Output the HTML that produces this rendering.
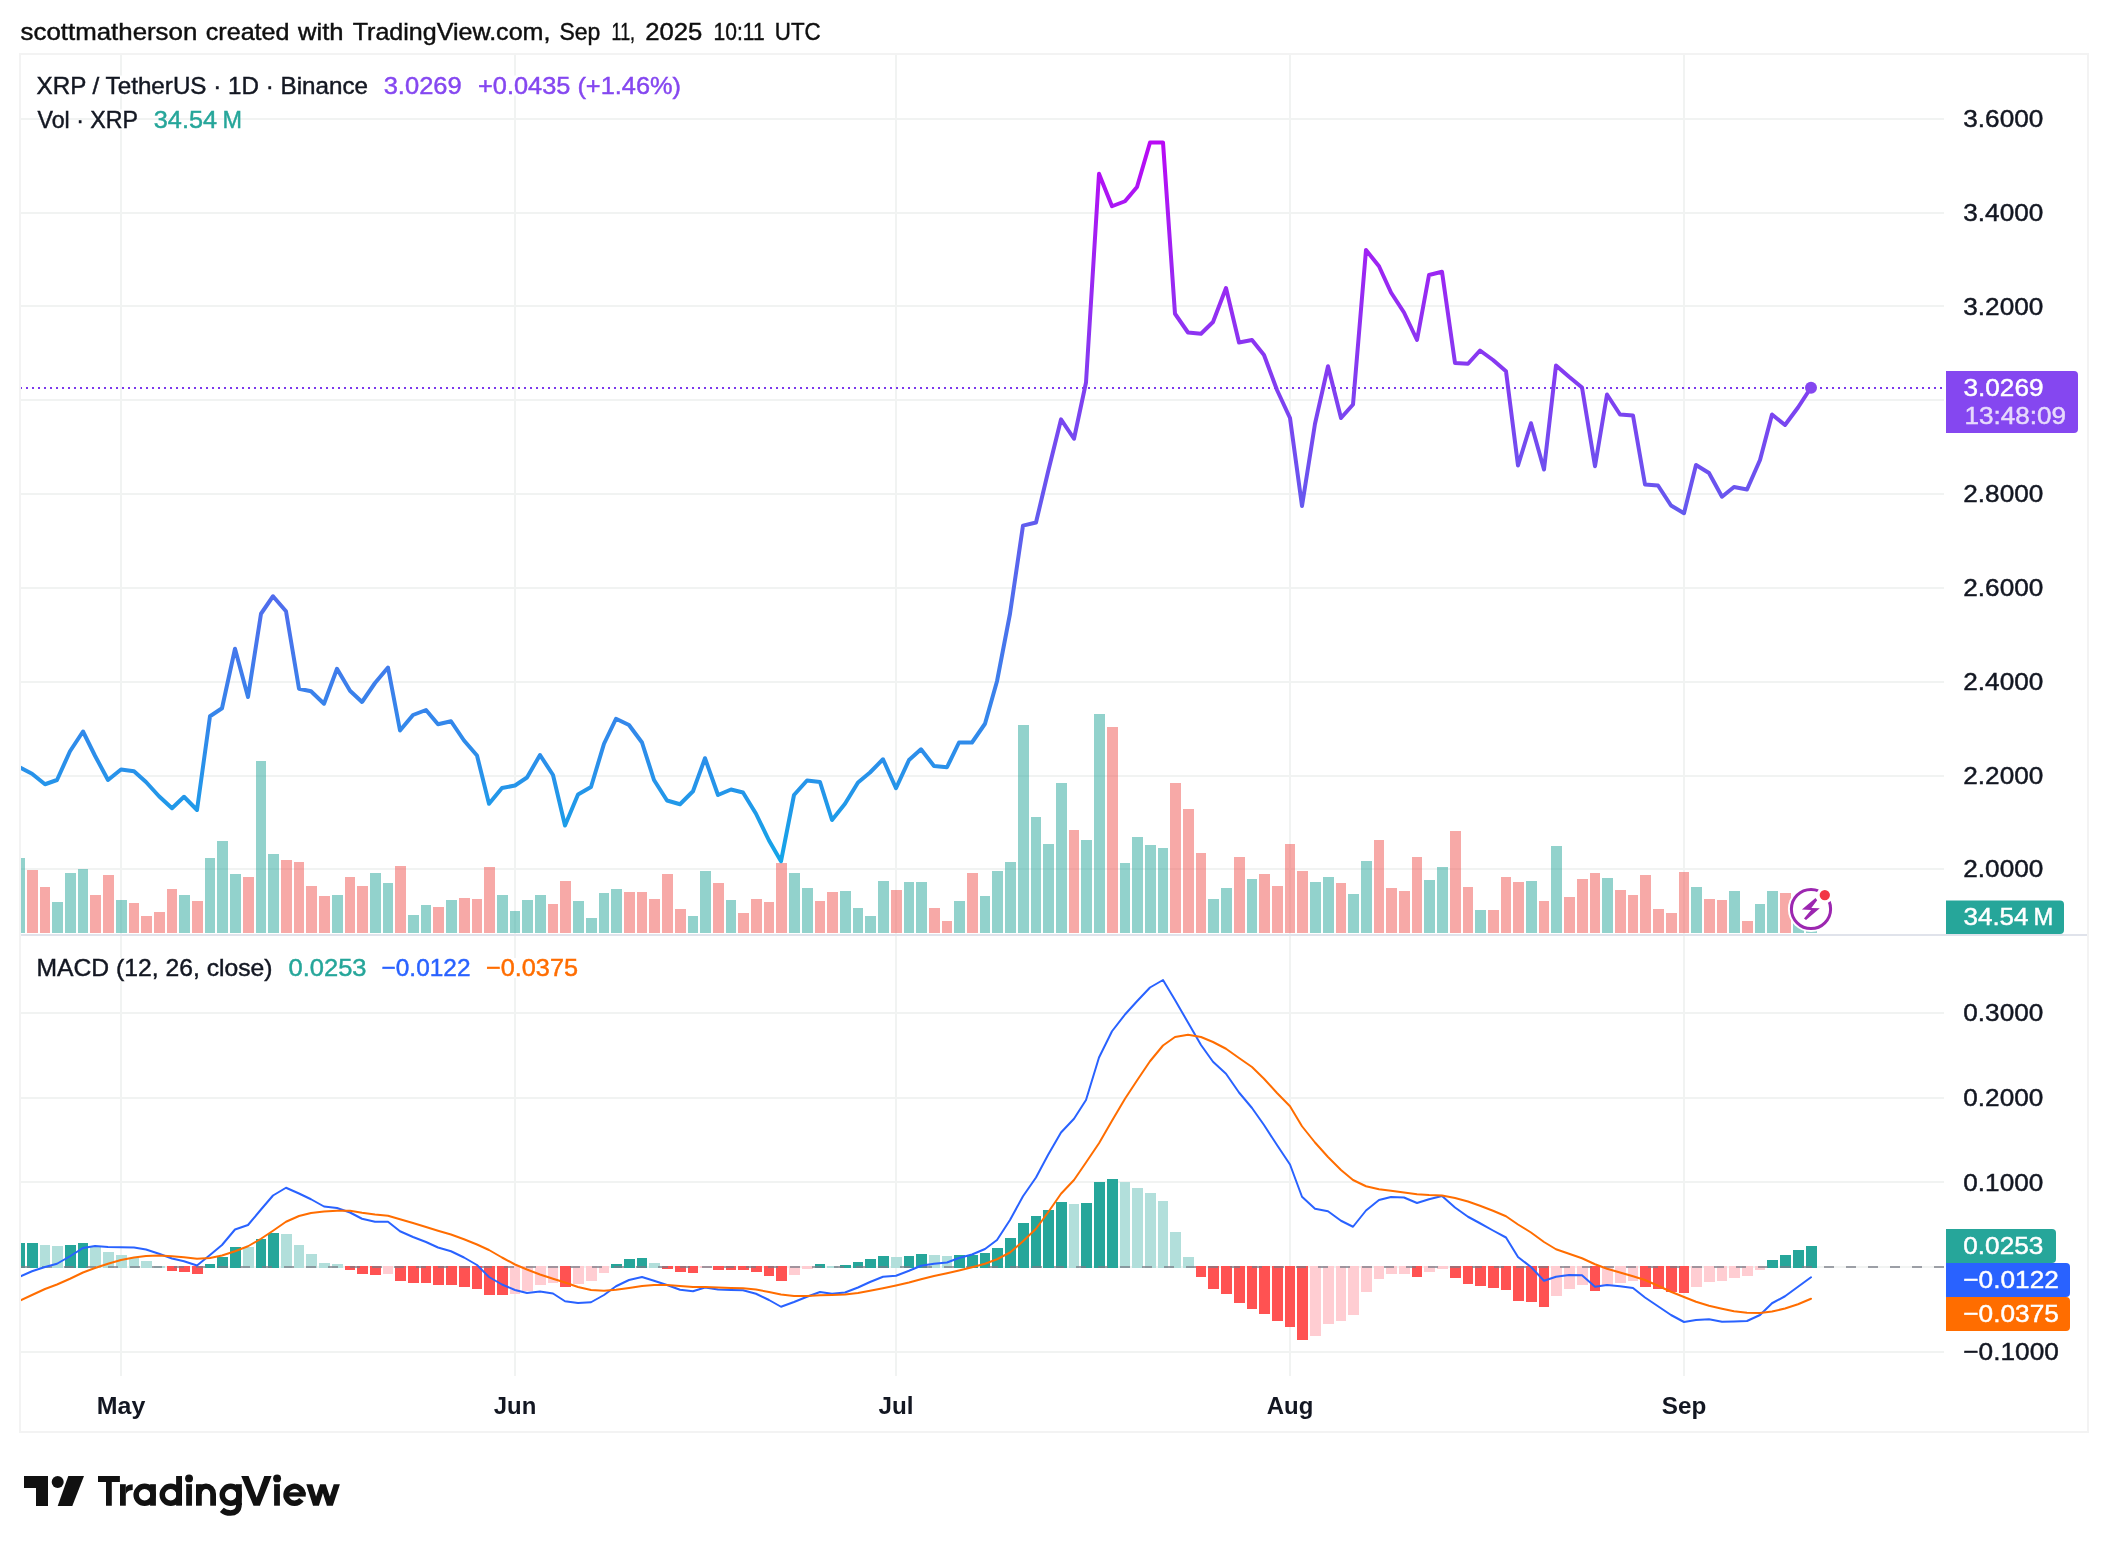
<!DOCTYPE html>
<html lang="en"><head><meta charset="utf-8"><title>XRP / TetherUS chart</title>
<style>html,body{margin:0;padding:0;background:#fff;}body{width:2108px;height:1552px;overflow:hidden;}svg{display:block;will-change:transform;}svg text{font-family:"Liberation Sans",sans-serif;white-space:pre;}</style>
</head><body>
<svg width="2108" height="1552" viewBox="0 0 2108 1552">
<defs>
<linearGradient id="pg" gradientUnits="userSpaceOnUse" x1="0" y1="142" x2="0" y2="861"><stop offset="0" stop-color="#b90af5"/><stop offset="1" stop-color="#14a5e8"/></linearGradient>
<clipPath id="pane"><rect x="21" y="55" width="1923" height="1320"/></clipPath>
</defs>
<rect width="2108" height="1552" fill="#fff"/>
<text x="20.6" y="40" font-size="24.5" fill="#0f0f0f" textLength="176.7" lengthAdjust="spacingAndGlyphs" stroke="#0f0f0f" stroke-width="0.45">scottmatherson</text>
<text x="205.8" y="40" font-size="24.5" fill="#0f0f0f" textLength="83.7" lengthAdjust="spacingAndGlyphs" stroke="#0f0f0f" stroke-width="0.45">created</text>
<text x="298" y="40" font-size="24.5" fill="#0f0f0f" textLength="45.5" lengthAdjust="spacingAndGlyphs" stroke="#0f0f0f" stroke-width="0.45">with</text>
<text x="352.7" y="40" font-size="24.5" fill="#0f0f0f" textLength="197.7" lengthAdjust="spacingAndGlyphs" stroke="#0f0f0f" stroke-width="0.45">TradingView.com,</text>
<text x="559.5" y="40" font-size="24.5" fill="#0f0f0f" textLength="40.8" lengthAdjust="spacingAndGlyphs" stroke="#0f0f0f" stroke-width="0.45">Sep</text>
<text x="611.6" y="40" font-size="24.5" fill="#0f0f0f" textLength="23.4" lengthAdjust="spacingAndGlyphs" stroke="#0f0f0f" stroke-width="0.45">11,</text>
<text x="645.2" y="40" font-size="24.5" fill="#0f0f0f" textLength="57.1" lengthAdjust="spacingAndGlyphs" stroke="#0f0f0f" stroke-width="0.45">2025</text>
<text x="713.6" y="40" font-size="24.5" fill="#0f0f0f" textLength="51" lengthAdjust="spacingAndGlyphs" stroke="#0f0f0f" stroke-width="0.45">10:11</text>
<text x="774.8" y="40" font-size="24.5" fill="#0f0f0f" textLength="45.9" lengthAdjust="spacingAndGlyphs" stroke="#0f0f0f" stroke-width="0.45">UTC</text>
<g shape-rendering="crispEdges" fill="#f1f3f2">
<rect x="120" y="55" width="2" height="1321"/>
<rect x="514" y="55" width="2" height="1321"/>
<rect x="895" y="55" width="2" height="1321"/>
<rect x="1289" y="55" width="2" height="1321"/>
<rect x="1683" y="55" width="2" height="1321"/>
</g>
<g fill="#fff"><rect x="34" y="75.5" width="650" height="20"/><rect x="34" y="109.5" width="212" height="20"/><rect x="34" y="958" width="548" height="20"/></g>
<g shape-rendering="crispEdges" fill="#f1f3f2">
<rect x="21" y="118" width="1923" height="2"/>
<rect x="21" y="212" width="1923" height="2"/>
<rect x="21" y="305" width="1923" height="2"/>
<rect x="21" y="399" width="1923" height="2"/>
<rect x="21" y="493" width="1923" height="2"/>
<rect x="21" y="587" width="1923" height="2"/>
<rect x="21" y="681" width="1923" height="2"/>
<rect x="21" y="775" width="1923" height="2"/>
<rect x="21" y="868" width="1923" height="2"/>
<rect x="21" y="1012" width="1923" height="2"/>
<rect x="21" y="1097" width="1923" height="2"/>
<rect x="21" y="1181" width="1923" height="2"/>
<rect x="21" y="1266" width="1923" height="2"/>
<rect x="21" y="1351" width="1923" height="2"/>
</g>
<g shape-rendering="crispEdges" clip-path="url(#pane)">
<rect x="14" y="858" width="11" height="75" fill="#26a69a" fill-opacity="0.5"/>
<rect x="27" y="870" width="11" height="63" fill="#ef5350" fill-opacity="0.5"/>
<rect x="40" y="887" width="10" height="46" fill="#ef5350" fill-opacity="0.5"/>
<rect x="52" y="902" width="11" height="31" fill="#26a69a" fill-opacity="0.5"/>
<rect x="65" y="873" width="11" height="60" fill="#26a69a" fill-opacity="0.5"/>
<rect x="78" y="869" width="10" height="64" fill="#26a69a" fill-opacity="0.5"/>
<rect x="90" y="895" width="11" height="38" fill="#ef5350" fill-opacity="0.5"/>
<rect x="103" y="875" width="11" height="58" fill="#ef5350" fill-opacity="0.5"/>
<rect x="116" y="900" width="11" height="33" fill="#26a69a" fill-opacity="0.5"/>
<rect x="129" y="903" width="10" height="30" fill="#ef5350" fill-opacity="0.5"/>
<rect x="141" y="916" width="11" height="17" fill="#ef5350" fill-opacity="0.5"/>
<rect x="154" y="912" width="11" height="21" fill="#ef5350" fill-opacity="0.5"/>
<rect x="167" y="889" width="10" height="44" fill="#ef5350" fill-opacity="0.5"/>
<rect x="179" y="895" width="11" height="38" fill="#26a69a" fill-opacity="0.5"/>
<rect x="192" y="901" width="11" height="32" fill="#ef5350" fill-opacity="0.5"/>
<rect x="205" y="858" width="10" height="75" fill="#26a69a" fill-opacity="0.5"/>
<rect x="217" y="841" width="11" height="92" fill="#26a69a" fill-opacity="0.5"/>
<rect x="230" y="874" width="11" height="59" fill="#26a69a" fill-opacity="0.5"/>
<rect x="243" y="877" width="11" height="56" fill="#ef5350" fill-opacity="0.5"/>
<rect x="256" y="761" width="10" height="172" fill="#26a69a" fill-opacity="0.5"/>
<rect x="268" y="854" width="11" height="79" fill="#26a69a" fill-opacity="0.5"/>
<rect x="281" y="860" width="11" height="73" fill="#ef5350" fill-opacity="0.5"/>
<rect x="294" y="862" width="10" height="71" fill="#ef5350" fill-opacity="0.5"/>
<rect x="306" y="886" width="11" height="47" fill="#ef5350" fill-opacity="0.5"/>
<rect x="319" y="896" width="11" height="37" fill="#ef5350" fill-opacity="0.5"/>
<rect x="332" y="895" width="11" height="38" fill="#26a69a" fill-opacity="0.5"/>
<rect x="345" y="877" width="10" height="56" fill="#ef5350" fill-opacity="0.5"/>
<rect x="357" y="886" width="11" height="47" fill="#ef5350" fill-opacity="0.5"/>
<rect x="370" y="873" width="11" height="60" fill="#26a69a" fill-opacity="0.5"/>
<rect x="383" y="883" width="10" height="50" fill="#26a69a" fill-opacity="0.5"/>
<rect x="395" y="866" width="11" height="67" fill="#ef5350" fill-opacity="0.5"/>
<rect x="408" y="915" width="11" height="18" fill="#26a69a" fill-opacity="0.5"/>
<rect x="421" y="905" width="10" height="28" fill="#26a69a" fill-opacity="0.5"/>
<rect x="433" y="907" width="11" height="26" fill="#ef5350" fill-opacity="0.5"/>
<rect x="446" y="900" width="11" height="33" fill="#26a69a" fill-opacity="0.5"/>
<rect x="459" y="898" width="11" height="35" fill="#ef5350" fill-opacity="0.5"/>
<rect x="472" y="899" width="10" height="34" fill="#ef5350" fill-opacity="0.5"/>
<rect x="484" y="867" width="11" height="66" fill="#ef5350" fill-opacity="0.5"/>
<rect x="497" y="895" width="11" height="38" fill="#26a69a" fill-opacity="0.5"/>
<rect x="510" y="911" width="10" height="22" fill="#26a69a" fill-opacity="0.5"/>
<rect x="522" y="900" width="11" height="33" fill="#26a69a" fill-opacity="0.5"/>
<rect x="535" y="895" width="11" height="38" fill="#26a69a" fill-opacity="0.5"/>
<rect x="548" y="904" width="10" height="29" fill="#ef5350" fill-opacity="0.5"/>
<rect x="560" y="881" width="11" height="52" fill="#ef5350" fill-opacity="0.5"/>
<rect x="573" y="901" width="11" height="32" fill="#26a69a" fill-opacity="0.5"/>
<rect x="586" y="918" width="11" height="15" fill="#26a69a" fill-opacity="0.5"/>
<rect x="599" y="893" width="10" height="40" fill="#26a69a" fill-opacity="0.5"/>
<rect x="611" y="889" width="11" height="44" fill="#26a69a" fill-opacity="0.5"/>
<rect x="624" y="892" width="11" height="41" fill="#ef5350" fill-opacity="0.5"/>
<rect x="637" y="892" width="10" height="41" fill="#ef5350" fill-opacity="0.5"/>
<rect x="649" y="899" width="11" height="34" fill="#ef5350" fill-opacity="0.5"/>
<rect x="662" y="874" width="11" height="59" fill="#ef5350" fill-opacity="0.5"/>
<rect x="675" y="909" width="11" height="24" fill="#ef5350" fill-opacity="0.5"/>
<rect x="688" y="916" width="10" height="17" fill="#26a69a" fill-opacity="0.5"/>
<rect x="700" y="871" width="11" height="62" fill="#26a69a" fill-opacity="0.5"/>
<rect x="713" y="883" width="11" height="50" fill="#ef5350" fill-opacity="0.5"/>
<rect x="726" y="900" width="10" height="33" fill="#26a69a" fill-opacity="0.5"/>
<rect x="738" y="913" width="11" height="20" fill="#ef5350" fill-opacity="0.5"/>
<rect x="751" y="899" width="11" height="34" fill="#ef5350" fill-opacity="0.5"/>
<rect x="764" y="902" width="10" height="31" fill="#ef5350" fill-opacity="0.5"/>
<rect x="776" y="863" width="11" height="70" fill="#ef5350" fill-opacity="0.5"/>
<rect x="789" y="873" width="11" height="60" fill="#26a69a" fill-opacity="0.5"/>
<rect x="802" y="888" width="11" height="45" fill="#26a69a" fill-opacity="0.5"/>
<rect x="815" y="901" width="10" height="32" fill="#ef5350" fill-opacity="0.5"/>
<rect x="827" y="892" width="11" height="41" fill="#ef5350" fill-opacity="0.5"/>
<rect x="840" y="891" width="11" height="42" fill="#26a69a" fill-opacity="0.5"/>
<rect x="853" y="908" width="10" height="25" fill="#26a69a" fill-opacity="0.5"/>
<rect x="865" y="916" width="11" height="17" fill="#26a69a" fill-opacity="0.5"/>
<rect x="878" y="881" width="11" height="52" fill="#26a69a" fill-opacity="0.5"/>
<rect x="891" y="890" width="11" height="43" fill="#ef5350" fill-opacity="0.5"/>
<rect x="904" y="882" width="10" height="51" fill="#26a69a" fill-opacity="0.5"/>
<rect x="916" y="882" width="11" height="51" fill="#26a69a" fill-opacity="0.5"/>
<rect x="929" y="908" width="11" height="25" fill="#ef5350" fill-opacity="0.5"/>
<rect x="942" y="921" width="10" height="12" fill="#ef5350" fill-opacity="0.5"/>
<rect x="954" y="901" width="11" height="32" fill="#26a69a" fill-opacity="0.5"/>
<rect x="967" y="873" width="11" height="60" fill="#ef5350" fill-opacity="0.5"/>
<rect x="980" y="896" width="10" height="37" fill="#26a69a" fill-opacity="0.5"/>
<rect x="992" y="871" width="11" height="62" fill="#26a69a" fill-opacity="0.5"/>
<rect x="1005" y="862" width="11" height="71" fill="#26a69a" fill-opacity="0.5"/>
<rect x="1018" y="725" width="11" height="208" fill="#26a69a" fill-opacity="0.5"/>
<rect x="1031" y="817" width="10" height="116" fill="#26a69a" fill-opacity="0.5"/>
<rect x="1043" y="844" width="11" height="89" fill="#26a69a" fill-opacity="0.5"/>
<rect x="1056" y="783" width="11" height="150" fill="#26a69a" fill-opacity="0.5"/>
<rect x="1069" y="830" width="10" height="103" fill="#ef5350" fill-opacity="0.5"/>
<rect x="1081" y="840" width="11" height="93" fill="#26a69a" fill-opacity="0.5"/>
<rect x="1094" y="714" width="11" height="219" fill="#26a69a" fill-opacity="0.5"/>
<rect x="1107" y="727" width="11" height="206" fill="#ef5350" fill-opacity="0.5"/>
<rect x="1120" y="863" width="10" height="70" fill="#26a69a" fill-opacity="0.5"/>
<rect x="1132" y="837" width="11" height="96" fill="#26a69a" fill-opacity="0.5"/>
<rect x="1145" y="845" width="11" height="88" fill="#26a69a" fill-opacity="0.5"/>
<rect x="1158" y="848" width="10" height="85" fill="#26a69a" fill-opacity="0.5"/>
<rect x="1170" y="783" width="11" height="150" fill="#ef5350" fill-opacity="0.5"/>
<rect x="1183" y="809" width="11" height="124" fill="#ef5350" fill-opacity="0.5"/>
<rect x="1196" y="853" width="10" height="80" fill="#ef5350" fill-opacity="0.5"/>
<rect x="1208" y="899" width="11" height="34" fill="#26a69a" fill-opacity="0.5"/>
<rect x="1221" y="888" width="11" height="45" fill="#26a69a" fill-opacity="0.5"/>
<rect x="1234" y="857" width="11" height="76" fill="#ef5350" fill-opacity="0.5"/>
<rect x="1247" y="879" width="10" height="54" fill="#26a69a" fill-opacity="0.5"/>
<rect x="1259" y="874" width="11" height="59" fill="#ef5350" fill-opacity="0.5"/>
<rect x="1272" y="886" width="11" height="47" fill="#ef5350" fill-opacity="0.5"/>
<rect x="1285" y="844" width="10" height="89" fill="#ef5350" fill-opacity="0.5"/>
<rect x="1297" y="871" width="11" height="62" fill="#ef5350" fill-opacity="0.5"/>
<rect x="1310" y="882" width="11" height="51" fill="#26a69a" fill-opacity="0.5"/>
<rect x="1323" y="877" width="11" height="56" fill="#26a69a" fill-opacity="0.5"/>
<rect x="1336" y="883" width="10" height="50" fill="#ef5350" fill-opacity="0.5"/>
<rect x="1348" y="894" width="11" height="39" fill="#26a69a" fill-opacity="0.5"/>
<rect x="1361" y="861" width="11" height="72" fill="#26a69a" fill-opacity="0.5"/>
<rect x="1374" y="840" width="10" height="93" fill="#ef5350" fill-opacity="0.5"/>
<rect x="1386" y="888" width="11" height="45" fill="#ef5350" fill-opacity="0.5"/>
<rect x="1399" y="891" width="11" height="42" fill="#ef5350" fill-opacity="0.5"/>
<rect x="1412" y="857" width="10" height="76" fill="#ef5350" fill-opacity="0.5"/>
<rect x="1424" y="880" width="11" height="53" fill="#26a69a" fill-opacity="0.5"/>
<rect x="1437" y="867" width="11" height="66" fill="#26a69a" fill-opacity="0.5"/>
<rect x="1450" y="831" width="11" height="102" fill="#ef5350" fill-opacity="0.5"/>
<rect x="1463" y="887" width="10" height="46" fill="#ef5350" fill-opacity="0.5"/>
<rect x="1475" y="910" width="11" height="23" fill="#26a69a" fill-opacity="0.5"/>
<rect x="1488" y="910" width="11" height="23" fill="#ef5350" fill-opacity="0.5"/>
<rect x="1501" y="877" width="10" height="56" fill="#ef5350" fill-opacity="0.5"/>
<rect x="1513" y="882" width="11" height="51" fill="#ef5350" fill-opacity="0.5"/>
<rect x="1526" y="881" width="11" height="52" fill="#26a69a" fill-opacity="0.5"/>
<rect x="1539" y="901" width="10" height="32" fill="#ef5350" fill-opacity="0.5"/>
<rect x="1551" y="846" width="11" height="87" fill="#26a69a" fill-opacity="0.5"/>
<rect x="1564" y="897" width="11" height="36" fill="#ef5350" fill-opacity="0.5"/>
<rect x="1577" y="879" width="11" height="54" fill="#ef5350" fill-opacity="0.5"/>
<rect x="1590" y="873" width="10" height="60" fill="#ef5350" fill-opacity="0.5"/>
<rect x="1602" y="878" width="11" height="55" fill="#26a69a" fill-opacity="0.5"/>
<rect x="1615" y="890" width="11" height="43" fill="#ef5350" fill-opacity="0.5"/>
<rect x="1628" y="895" width="10" height="38" fill="#ef5350" fill-opacity="0.5"/>
<rect x="1640" y="875" width="11" height="58" fill="#ef5350" fill-opacity="0.5"/>
<rect x="1653" y="909" width="11" height="24" fill="#ef5350" fill-opacity="0.5"/>
<rect x="1666" y="913" width="11" height="20" fill="#ef5350" fill-opacity="0.5"/>
<rect x="1679" y="872" width="10" height="61" fill="#ef5350" fill-opacity="0.5"/>
<rect x="1691" y="887" width="11" height="46" fill="#26a69a" fill-opacity="0.5"/>
<rect x="1704" y="899" width="11" height="34" fill="#ef5350" fill-opacity="0.5"/>
<rect x="1717" y="900" width="10" height="33" fill="#ef5350" fill-opacity="0.5"/>
<rect x="1729" y="891" width="11" height="42" fill="#26a69a" fill-opacity="0.5"/>
<rect x="1742" y="921" width="11" height="12" fill="#ef5350" fill-opacity="0.5"/>
<rect x="1755" y="904" width="10" height="29" fill="#26a69a" fill-opacity="0.5"/>
<rect x="1767" y="891" width="11" height="42" fill="#26a69a" fill-opacity="0.5"/>
<rect x="1780" y="893" width="11" height="40" fill="#ef5350" fill-opacity="0.5"/>
<rect x="1793" y="908" width="11" height="25" fill="#26a69a" fill-opacity="0.5"/>
<rect x="1806" y="927" width="11" height="6" fill="#26a69a" fill-opacity="0.5"/>
</g>
<rect x="21" y="934" width="2066" height="2" fill="#e0e3eb" shape-rendering="crispEdges"/>
<g shape-rendering="crispEdges" clip-path="url(#pane)">
<rect x="14" y="1243" width="11" height="25" fill="#26a69a"/>
<rect x="27" y="1243" width="11" height="25" fill="#26a69a"/>
<rect x="40" y="1245" width="10" height="23" fill="#b2dfdb"/>
<rect x="52" y="1246" width="11" height="22" fill="#b2dfdb"/>
<rect x="65" y="1245" width="11" height="23" fill="#26a69a"/>
<rect x="78" y="1243" width="10" height="25" fill="#26a69a"/>
<rect x="90" y="1247" width="11" height="21" fill="#b2dfdb"/>
<rect x="103" y="1252" width="11" height="16" fill="#b2dfdb"/>
<rect x="116" y="1255" width="11" height="13" fill="#b2dfdb"/>
<rect x="129" y="1258" width="10" height="10" fill="#b2dfdb"/>
<rect x="141" y="1261" width="11" height="7" fill="#b2dfdb"/>
<rect x="154" y="1266" width="11" height="2" fill="#b2dfdb"/>
<rect x="167" y="1266" width="10" height="5" fill="#ff5252"/>
<rect x="179" y="1266" width="11" height="6" fill="#ff5252"/>
<rect x="192" y="1266" width="11" height="8" fill="#ff5252"/>
<rect x="205" y="1264" width="10" height="4" fill="#26a69a"/>
<rect x="217" y="1257" width="11" height="11" fill="#26a69a"/>
<rect x="230" y="1247" width="11" height="21" fill="#26a69a"/>
<rect x="243" y="1247" width="11" height="21" fill="#b2dfdb"/>
<rect x="256" y="1239" width="10" height="29" fill="#26a69a"/>
<rect x="268" y="1233" width="11" height="35" fill="#26a69a"/>
<rect x="281" y="1234" width="11" height="34" fill="#b2dfdb"/>
<rect x="294" y="1245" width="10" height="23" fill="#b2dfdb"/>
<rect x="306" y="1254" width="11" height="14" fill="#b2dfdb"/>
<rect x="319" y="1263" width="11" height="5" fill="#b2dfdb"/>
<rect x="332" y="1264" width="11" height="4" fill="#b2dfdb"/>
<rect x="345" y="1266" width="10" height="4" fill="#ff5252"/>
<rect x="357" y="1266" width="11" height="8" fill="#ff5252"/>
<rect x="370" y="1266" width="11" height="9" fill="#ff5252"/>
<rect x="383" y="1266" width="10" height="8" fill="#ffcdd2"/>
<rect x="395" y="1266" width="11" height="15" fill="#ff5252"/>
<rect x="408" y="1266" width="11" height="17" fill="#ff5252"/>
<rect x="421" y="1266" width="10" height="17" fill="#ff5252"/>
<rect x="433" y="1266" width="11" height="19" fill="#ff5252"/>
<rect x="446" y="1266" width="11" height="19" fill="#ff5252"/>
<rect x="459" y="1266" width="11" height="21" fill="#ff5252"/>
<rect x="472" y="1266" width="10" height="23" fill="#ff5252"/>
<rect x="484" y="1266" width="11" height="29" fill="#ff5252"/>
<rect x="497" y="1266" width="11" height="29" fill="#ff5252"/>
<rect x="510" y="1266" width="10" height="28" fill="#ffcdd2"/>
<rect x="522" y="1266" width="11" height="25" fill="#ffcdd2"/>
<rect x="535" y="1266" width="11" height="19" fill="#ffcdd2"/>
<rect x="548" y="1266" width="10" height="17" fill="#ffcdd2"/>
<rect x="560" y="1266" width="11" height="21" fill="#ff5252"/>
<rect x="573" y="1266" width="11" height="18" fill="#ffcdd2"/>
<rect x="586" y="1266" width="11" height="15" fill="#ffcdd2"/>
<rect x="599" y="1266" width="10" height="7" fill="#ffcdd2"/>
<rect x="611" y="1264" width="11" height="4" fill="#26a69a"/>
<rect x="624" y="1259" width="11" height="9" fill="#26a69a"/>
<rect x="637" y="1258" width="10" height="10" fill="#26a69a"/>
<rect x="649" y="1263" width="11" height="5" fill="#b2dfdb"/>
<rect x="662" y="1266" width="11" height="3" fill="#ff5252"/>
<rect x="675" y="1266" width="11" height="6" fill="#ff5252"/>
<rect x="688" y="1266" width="10" height="7" fill="#ff5252"/>
<rect x="700" y="1266" width="11" height="2" fill="#ffcdd2"/>
<rect x="713" y="1266" width="11" height="4" fill="#ff5252"/>
<rect x="726" y="1266" width="10" height="4" fill="#ff5252"/>
<rect x="738" y="1266" width="11" height="4" fill="#ff5252"/>
<rect x="751" y="1266" width="11" height="6" fill="#ff5252"/>
<rect x="764" y="1266" width="10" height="10" fill="#ff5252"/>
<rect x="776" y="1266" width="11" height="15" fill="#ff5252"/>
<rect x="789" y="1266" width="11" height="9" fill="#ffcdd2"/>
<rect x="802" y="1266" width="11" height="3" fill="#ffcdd2"/>
<rect x="815" y="1264" width="10" height="4" fill="#26a69a"/>
<rect x="827" y="1266" width="11" height="2" fill="#b2dfdb"/>
<rect x="840" y="1265" width="11" height="3" fill="#26a69a"/>
<rect x="853" y="1262" width="10" height="6" fill="#26a69a"/>
<rect x="865" y="1259" width="11" height="9" fill="#26a69a"/>
<rect x="878" y="1256" width="11" height="12" fill="#26a69a"/>
<rect x="891" y="1257" width="11" height="11" fill="#b2dfdb"/>
<rect x="904" y="1256" width="10" height="12" fill="#26a69a"/>
<rect x="916" y="1254" width="11" height="14" fill="#26a69a"/>
<rect x="929" y="1255" width="11" height="13" fill="#b2dfdb"/>
<rect x="942" y="1256" width="10" height="12" fill="#b2dfdb"/>
<rect x="954" y="1255" width="11" height="13" fill="#26a69a"/>
<rect x="967" y="1255" width="11" height="13" fill="#26a69a"/>
<rect x="980" y="1253" width="10" height="15" fill="#26a69a"/>
<rect x="992" y="1248" width="11" height="20" fill="#26a69a"/>
<rect x="1005" y="1238" width="11" height="30" fill="#26a69a"/>
<rect x="1018" y="1223" width="11" height="45" fill="#26a69a"/>
<rect x="1031" y="1216" width="10" height="52" fill="#26a69a"/>
<rect x="1043" y="1210" width="11" height="58" fill="#26a69a"/>
<rect x="1056" y="1202" width="11" height="66" fill="#26a69a"/>
<rect x="1069" y="1204" width="10" height="64" fill="#b2dfdb"/>
<rect x="1081" y="1203" width="11" height="65" fill="#26a69a"/>
<rect x="1094" y="1182" width="11" height="86" fill="#26a69a"/>
<rect x="1107" y="1179" width="11" height="89" fill="#26a69a"/>
<rect x="1120" y="1182" width="10" height="86" fill="#b2dfdb"/>
<rect x="1132" y="1188" width="11" height="80" fill="#b2dfdb"/>
<rect x="1145" y="1193" width="11" height="75" fill="#b2dfdb"/>
<rect x="1158" y="1201" width="10" height="67" fill="#b2dfdb"/>
<rect x="1170" y="1232" width="11" height="36" fill="#b2dfdb"/>
<rect x="1183" y="1257" width="11" height="11" fill="#b2dfdb"/>
<rect x="1196" y="1266" width="10" height="11" fill="#ff5252"/>
<rect x="1208" y="1266" width="11" height="23" fill="#ff5252"/>
<rect x="1221" y="1266" width="11" height="28" fill="#ff5252"/>
<rect x="1234" y="1266" width="11" height="37" fill="#ff5252"/>
<rect x="1247" y="1266" width="10" height="43" fill="#ff5252"/>
<rect x="1259" y="1266" width="11" height="48" fill="#ff5252"/>
<rect x="1272" y="1266" width="11" height="55" fill="#ff5252"/>
<rect x="1285" y="1266" width="10" height="61" fill="#ff5252"/>
<rect x="1297" y="1266" width="11" height="74" fill="#ff5252"/>
<rect x="1310" y="1266" width="11" height="70" fill="#ffcdd2"/>
<rect x="1323" y="1266" width="11" height="58" fill="#ffcdd2"/>
<rect x="1336" y="1266" width="10" height="55" fill="#ffcdd2"/>
<rect x="1348" y="1266" width="11" height="49" fill="#ffcdd2"/>
<rect x="1361" y="1266" width="11" height="26" fill="#ffcdd2"/>
<rect x="1374" y="1266" width="10" height="13" fill="#ffcdd2"/>
<rect x="1386" y="1266" width="11" height="8" fill="#ffcdd2"/>
<rect x="1399" y="1266" width="11" height="8" fill="#ffcdd2"/>
<rect x="1412" y="1266" width="10" height="11" fill="#ff5252"/>
<rect x="1424" y="1266" width="11" height="6" fill="#ffcdd2"/>
<rect x="1437" y="1266" width="11" height="3" fill="#ffcdd2"/>
<rect x="1450" y="1266" width="11" height="12" fill="#ff5252"/>
<rect x="1463" y="1266" width="10" height="18" fill="#ff5252"/>
<rect x="1475" y="1266" width="11" height="20" fill="#ff5252"/>
<rect x="1488" y="1266" width="11" height="22" fill="#ff5252"/>
<rect x="1501" y="1266" width="10" height="24" fill="#ff5252"/>
<rect x="1513" y="1266" width="11" height="35" fill="#ff5252"/>
<rect x="1526" y="1266" width="11" height="36" fill="#ff5252"/>
<rect x="1539" y="1266" width="10" height="41" fill="#ff5252"/>
<rect x="1551" y="1266" width="11" height="30" fill="#ffcdd2"/>
<rect x="1564" y="1266" width="11" height="23" fill="#ffcdd2"/>
<rect x="1577" y="1266" width="11" height="19" fill="#ffcdd2"/>
<rect x="1590" y="1266" width="10" height="25" fill="#ff5252"/>
<rect x="1602" y="1266" width="11" height="19" fill="#ffcdd2"/>
<rect x="1615" y="1266" width="11" height="17" fill="#ffcdd2"/>
<rect x="1628" y="1266" width="10" height="15" fill="#ffcdd2"/>
<rect x="1640" y="1266" width="11" height="21" fill="#ff5252"/>
<rect x="1653" y="1266" width="11" height="23" fill="#ff5252"/>
<rect x="1666" y="1266" width="11" height="26" fill="#ff5252"/>
<rect x="1679" y="1266" width="10" height="27" fill="#ff5252"/>
<rect x="1691" y="1266" width="11" height="21" fill="#ffcdd2"/>
<rect x="1704" y="1266" width="11" height="16" fill="#ffcdd2"/>
<rect x="1717" y="1266" width="10" height="15" fill="#ffcdd2"/>
<rect x="1729" y="1266" width="11" height="12" fill="#ffcdd2"/>
<rect x="1742" y="1266" width="11" height="10" fill="#ffcdd2"/>
<rect x="1755" y="1266" width="10" height="4" fill="#ffcdd2"/>
<rect x="1767" y="1260" width="11" height="8" fill="#26a69a"/>
<rect x="1780" y="1255" width="11" height="13" fill="#26a69a"/>
<rect x="1793" y="1250" width="11" height="18" fill="#26a69a"/>
<rect x="1806" y="1246" width="11" height="22" fill="#26a69a"/>
</g>
<path d="M20 1267H1944" stroke="#787b86" stroke-opacity="0.7" stroke-width="2" stroke-dasharray="10 12" fill="none" shape-rendering="crispEdges"/>
<g clip-path="url(#pane)" fill="none" stroke-linejoin="round" stroke-linecap="round">
<polyline points="19,1277 32,1271.25 45,1267 57,1263.75 70,1256.25 83,1248 95,1246 108,1247 121,1247.25 134,1247.5 146,1249.5 159,1253.75 172,1258.5 184,1261.25 197,1265.5 210,1255 222,1245 235,1229.5 248,1225 261,1209.5 273,1195.5 286,1187.75 299,1193.5 311,1199.25 324,1206.5 337,1208 350,1212.5 362,1218.75 375,1221.75 388,1221.75 400,1231.25 413,1237 426,1242 438,1247.5 451,1251.25 464,1257.5 477,1265 489,1277 502,1284.5 515,1290 527,1293 540,1291.5 553,1293.5 565,1301.25 578,1303 591,1302.25 604,1295 616,1286.25 629,1280 642,1277 654,1280.75 667,1285 680,1289.75 693,1291.25 705,1287.5 718,1289.5 731,1290 743,1290.25 756,1293.75 769,1300 781,1306.75 794,1302 807,1296.75 820,1292 832,1293.75 845,1292.5 858,1287.5 870,1282 883,1276.75 896,1275.75 909,1270.75 921,1265.75 934,1263.75 947,1262.5 959,1258 972,1254.5 985,1249 997,1240 1010,1220 1023,1196.25 1036,1177.5 1048,1155 1061,1132.5 1074,1118.75 1086,1100 1099,1057.5 1112,1031.25 1125,1014.5 1137,1001.25 1150,987.5 1163,980 1175,1000 1188,1022.5 1201,1045 1213,1061.75 1226,1073.75 1239,1092.5 1252,1108 1264,1125 1277,1145 1290,1164.5 1302,1196.75 1315,1208.75 1328,1211.25 1341,1220.75 1353,1226.75 1366,1210.5 1379,1200 1391,1197 1404,1197.5 1417,1203 1429,1199.25 1442,1196 1455,1207.5 1468,1216.75 1480,1223.25 1493,1230.5 1506,1237.5 1518,1257 1531,1267 1544,1280.75 1556,1276.75 1569,1275 1582,1275.25 1595,1286.75 1607,1285 1620,1286.25 1633,1288 1645,1297.5 1658,1306.25 1671,1315 1684,1322 1696,1320 1709,1319.25 1722,1321.75 1734,1321.5 1747,1321 1760,1315 1772,1303.25 1785,1296.25 1798,1286.75 1811,1277.25" stroke="#2962ff" stroke-width="2"/>
<polyline points="19,1301 32,1295 45,1289 57,1284.5 70,1278.75 83,1272.5 95,1268 108,1263.75 121,1260 134,1257.5 146,1256 159,1255.5 172,1256.25 184,1257.25 197,1258.75 210,1258 222,1255.5 235,1251.25 248,1246.25 261,1238.75 273,1230.75 286,1221.75 299,1216 311,1213 324,1211.5 337,1210.75 350,1210.75 362,1212.75 375,1214.5 388,1215.75 400,1219.25 413,1223 426,1227 438,1230.75 451,1234.5 464,1239.25 477,1244.5 489,1250 502,1257.5 515,1264.5 527,1269.5 540,1274.5 553,1278.75 565,1282.5 578,1287 591,1290 604,1290.75 616,1289.75 629,1288 642,1286 654,1285 667,1285 680,1286 693,1287 705,1287 718,1287.5 731,1288 743,1288.25 756,1289.5 769,1292 781,1294.5 794,1296 807,1296 820,1295.25 832,1295 845,1294.5 858,1293 870,1290.75 883,1288.25 896,1285.5 909,1282.5 921,1279.25 934,1276 947,1273.25 959,1270.5 972,1267.25 985,1263.75 997,1259.25 1010,1252.5 1023,1241.25 1036,1228.75 1048,1212.5 1061,1193.75 1074,1180 1086,1162.5 1099,1143.25 1112,1120.75 1125,1098.75 1137,1080.5 1150,1061.25 1163,1045.5 1175,1037 1188,1034.75 1201,1037 1213,1042 1226,1048.75 1239,1058 1252,1067 1264,1078.75 1277,1093 1290,1106.25 1302,1126.25 1315,1142.5 1328,1157 1341,1170 1353,1180 1366,1186.25 1379,1189.25 1391,1190.75 1404,1192.5 1417,1194.25 1429,1195 1442,1195.5 1455,1198 1468,1201.5 1480,1205.75 1493,1210.75 1506,1216.25 1518,1224.5 1531,1232.5 1544,1242 1556,1249.25 1569,1253.75 1582,1258.25 1595,1264.25 1607,1268.75 1620,1272.5 1633,1276.25 1645,1280 1658,1285.75 1671,1291.75 1684,1297 1696,1301.75 1709,1305.75 1722,1308.75 1734,1311.25 1747,1312.75 1760,1313 1772,1311.5 1785,1308.5 1798,1304.25 1811,1298.75" stroke="#ff6d00" stroke-width="2"/>
<polyline points="19,767 32,773.75 45,784.25 57,780 70,751.25 83,731.5 95,755.75 108,780 121,769.5 134,771.25 146,782 159,796.25 172,808.25 184,796.75 197,810 210,716.25 222,708.25 235,648.75 248,697 261,613.75 273,596.25 286,611.25 299,688.75 311,691.25 324,703.75 337,668.75 350,690.75 362,702 375,683 388,667.5 400,730.5 413,715 426,710 438,724.25 451,721.25 464,740.5 477,755.5 489,803.75 502,788 515,785.5 527,777.5 540,755 553,775 565,825.5 578,794.5 591,787 604,743.75 616,718.75 629,725 642,742.5 654,780 667,800.5 680,804.25 693,791.25 705,758.25 718,795 731,789.5 743,792.5 756,813.75 769,840.5 781,861.25 794,795 807,780.5 820,782 832,820 845,803.75 858,782.5 870,772.5 883,759.25 896,788.25 909,760 921,749.25 934,766 947,767.25 959,742.5 972,742.5 985,723.75 997,681.25 1010,613.75 1023,525.6 1036,522.5 1048,472 1061,419.4 1074,438.75 1086,382.5 1099,173.75 1112,206.25 1125,201.25 1137,187 1150,142.5 1163,142.5 1175,313.75 1188,332.5 1201,333.75 1213,322 1226,288 1239,342.5 1252,340 1264,355 1277,390 1290,418 1302,506 1315,423.75 1328,366.25 1341,418 1353,404.5 1366,250 1379,266.25 1391,292.5 1404,312.5 1417,340 1429,275 1442,271.75 1455,363 1468,363.75 1480,350.5 1493,360 1506,371.25 1518,465.5 1531,423.25 1544,469.5 1556,365.5 1569,376.75 1582,387.5 1595,466.25 1607,394.5 1620,414.5 1633,415.5 1645,484.5 1658,485.5 1671,505.5 1684,513.25 1696,465 1709,473 1722,496.75 1734,487 1747,489.5 1760,460 1772,414.5 1785,425 1798,407.5 1811,387.5" stroke="url(#pg)" stroke-width="4"/>
</g>
<path d="M20 388H1944" stroke="#7c3aed" stroke-width="2" stroke-dasharray="2 4" fill="none" shape-rendering="crispEdges"/>
<circle cx="1811" cy="387.7" r="6" fill="#8547f0"/>
<text x="36.5" y="94" font-size="24.5" fill="#131722" textLength="331.5" lengthAdjust="spacingAndGlyphs" stroke="#131722" stroke-width="0.45">XRP / TetherUS · 1D · Binance</text>
<text x="383.7" y="94" font-size="24.5" fill="#8547f0" textLength="78" lengthAdjust="spacingAndGlyphs" stroke="#8547f0" stroke-width="0.45">3.0269</text>
<text x="478" y="94" font-size="24.5" fill="#8547f0" textLength="203" lengthAdjust="spacingAndGlyphs" stroke="#8547f0" stroke-width="0.45">+0.0435 (+1.46%)</text>
<text x="37.5" y="128" font-size="24.5" fill="#131722" textLength="100.5" lengthAdjust="spacingAndGlyphs" stroke="#131722" stroke-width="0.45">Vol · XRP</text>
<text x="153.8" y="128" font-size="24.5" fill="#26a69a" textLength="63.2" lengthAdjust="spacingAndGlyphs" stroke="#26a69a" stroke-width="0.45">34.54</text>
<text x="222.6" y="128" font-size="24.5" fill="#26a69a" textLength="19.5" lengthAdjust="spacingAndGlyphs" stroke="#26a69a" stroke-width="0.45">M</text>
<text x="36.5" y="975.6" font-size="24.5" fill="#131722" textLength="236" lengthAdjust="spacingAndGlyphs" stroke="#131722" stroke-width="0.45">MACD (12, 26, close)</text>
<text x="288.5" y="975.6" font-size="24.5" fill="#26a69a" textLength="78" lengthAdjust="spacingAndGlyphs" stroke="#26a69a" stroke-width="0.45">0.0253</text>
<text x="381.5" y="975.6" font-size="24.5" fill="#2962ff" textLength="89" lengthAdjust="spacingAndGlyphs" stroke="#2962ff" stroke-width="0.45">−0.0122</text>
<text x="486" y="975.6" font-size="24.5" fill="#ff6d00" textLength="92" lengthAdjust="spacingAndGlyphs" stroke="#ff6d00" stroke-width="0.45">−0.0375</text>
<text x="1963.3" y="127.3" font-size="24.5" fill="#131722" textLength="80" lengthAdjust="spacingAndGlyphs" stroke="#131722" stroke-width="0.45">3.6000</text>
<text x="1963.3" y="221.05" font-size="24.5" fill="#131722" textLength="80" lengthAdjust="spacingAndGlyphs" stroke="#131722" stroke-width="0.45">3.4000</text>
<text x="1963.3" y="314.8" font-size="24.5" fill="#131722" textLength="80" lengthAdjust="spacingAndGlyphs" stroke="#131722" stroke-width="0.45">3.2000</text>
<text x="1963.3" y="502.3" font-size="24.5" fill="#131722" textLength="80" lengthAdjust="spacingAndGlyphs" stroke="#131722" stroke-width="0.45">2.8000</text>
<text x="1963.3" y="596.05" font-size="24.5" fill="#131722" textLength="80" lengthAdjust="spacingAndGlyphs" stroke="#131722" stroke-width="0.45">2.6000</text>
<text x="1963.3" y="689.8" font-size="24.5" fill="#131722" textLength="80" lengthAdjust="spacingAndGlyphs" stroke="#131722" stroke-width="0.45">2.4000</text>
<text x="1963.3" y="783.55" font-size="24.5" fill="#131722" textLength="80" lengthAdjust="spacingAndGlyphs" stroke="#131722" stroke-width="0.45">2.2000</text>
<text x="1963.3" y="877.3" font-size="24.5" fill="#131722" textLength="80" lengthAdjust="spacingAndGlyphs" stroke="#131722" stroke-width="0.45">2.0000</text>
<text x="1963.3" y="1021.3" font-size="24.5" fill="#131722" textLength="80" lengthAdjust="spacingAndGlyphs" stroke="#131722" stroke-width="0.45">0.3000</text>
<text x="1963.3" y="1106.05" font-size="24.5" fill="#131722" textLength="80" lengthAdjust="spacingAndGlyphs" stroke="#131722" stroke-width="0.45">0.2000</text>
<text x="1963.3" y="1190.8" font-size="24.5" fill="#131722" textLength="80" lengthAdjust="spacingAndGlyphs" stroke="#131722" stroke-width="0.45">0.1000</text>
<text x="1963.3" y="1360.3" font-size="24.5" fill="#131722" textLength="95.5" lengthAdjust="spacingAndGlyphs" stroke="#131722" stroke-width="0.45">−0.1000</text>
<path d="M1946 371H2074a4 4 0 0 1 4 4V429a4 4 0 0 1 -4 4H1946Z" fill="#8547f0"/>
<text x="1963.5" y="396" font-size="24.5" fill="#fff" textLength="80" lengthAdjust="spacingAndGlyphs" stroke="#fff" stroke-width="0.45">3.0269</text>
<text x="1964.4" y="424" font-size="24.5" fill="#e7dafc" textLength="101.5" lengthAdjust="spacingAndGlyphs" stroke="#e7dafc" stroke-width="0.45">13:48:09</text>
<path d="M1946 900.5H2060a4 4 0 0 1 4 4V930a4 4 0 0 1 -4 4H1946Z" fill="#26a69a"/>
<text x="1963.5" y="925.3" font-size="24.5" fill="#fff" textLength="65" lengthAdjust="spacingAndGlyphs" stroke="#fff" stroke-width="0.45">34.54</text>
<text x="2033.6" y="925.3" font-size="24.5" fill="#fff" textLength="19.8" lengthAdjust="spacingAndGlyphs" stroke="#fff" stroke-width="0.45">M</text>
<path d="M1946 1229H2052a4 4 0 0 1 4 4V1259a4 4 0 0 1 -4 4H1946Z" fill="#26a69a"/>
<text x="1963.3" y="1254.1" font-size="24.5" fill="#fff" textLength="80" lengthAdjust="spacingAndGlyphs" stroke="#fff" stroke-width="0.45">0.0253</text>
<path d="M1946 1263H2066a4 4 0 0 1 4 4V1293a4 4 0 0 1 -4 4H1946Z" fill="#2962ff"/>
<text x="1963.3" y="1288" font-size="24.5" fill="#fff" textLength="95.5" lengthAdjust="spacingAndGlyphs" stroke="#fff" stroke-width="0.45">−0.0122</text>
<path d="M1946 1297H2066a4 4 0 0 1 4 4V1327a4 4 0 0 1 -4 4H1946Z" fill="#ff6d00"/>
<text x="1963.3" y="1322" font-size="24.5" fill="#fff" textLength="95.5" lengthAdjust="spacingAndGlyphs" stroke="#fff" stroke-width="0.45">−0.0375</text>
<text x="121" y="1414" font-size="24" fill="#131722" textLength="48.5" lengthAdjust="spacingAndGlyphs" font-weight="bold" text-anchor="middle">May</text>
<text x="515" y="1414" font-size="24" fill="#131722" textLength="42.5" lengthAdjust="spacingAndGlyphs" font-weight="bold" text-anchor="middle">Jun</text>
<text x="896" y="1414" font-size="24" fill="#131722" textLength="35" lengthAdjust="spacingAndGlyphs" font-weight="bold" text-anchor="middle">Jul</text>
<text x="1290" y="1414" font-size="24" fill="#131722" textLength="46.5" lengthAdjust="spacingAndGlyphs" font-weight="bold" text-anchor="middle">Aug</text>
<text x="1684" y="1414" font-size="24" fill="#131722" textLength="44.5" lengthAdjust="spacingAndGlyphs" font-weight="bold" text-anchor="middle">Sep</text>
<rect x="20" y="54" width="2068" height="1378" fill="none" stroke="#f3f3f3" stroke-width="2" shape-rendering="crispEdges"/>
<g>
<circle cx="1811" cy="909" r="23.1" fill="#fff"/>
<circle cx="1811" cy="909" r="19.6" fill="#fff" stroke="#9c27b0" stroke-width="3"/>
<polygon points="1815.5,898 1801.9,909.4 1811.1,910 1804,918.6 1806,919.9 1819.8,908.3 1811.3,907.9 1817.2,900.3" fill="#9c27b0"/>
<circle cx="1824.8" cy="895.1" r="8.3" fill="#fff"/><circle cx="1824.8" cy="895.1" r="5.15" fill="#f23645"/>
</g>
<g fill="#111">
<path d="M24 1476H48V1506H36V1488H24Z"/>
<circle cx="57.7" cy="1481.9" r="6"/>
<path d="M68.3 1476H84L72.3 1506H57.7Z"/>
</g>
<g fill="#111"><path d="M98 1476H119.9V1481.9H111.8V1505.7H106V1481.9H98Z"/><path d="M120 1484.2H125.8V1505.7H120Z"/><path d="M125.8 1496C125.8 1492.2 128.3 1490 132.7 1489.9V1484.2C129.4 1484.2 127 1485.4 125.8 1487.3Z"/><circle cx="144.6" cy="1494.8" r="8.45" fill="none" stroke="#111" stroke-width="5.5"/><path d="M150.1 1484.2H155.9V1505.7H150.1Z"/><circle cx="170.7" cy="1494.8" r="8.45" fill="none" stroke="#111" stroke-width="5.5"/><path d="M176.1 1476H182V1505.7H176.1Z"/><path d="M186.15 1484.2H191.95V1505.7H186.15Z"/><circle cx="189.05" cy="1478.4" r="3.95"/><path d="M196 1484.2H201.8V1505.7H196Z"/><path d="M210.2 1494H216V1505.7H210.2Z"/><path d="M196 1494A10 10.6 0 0 1 216 1494H210.2A4.2 5 0 0 0 201.8 1494Z"/><circle cx="230.7" cy="1494.8" r="8.45" fill="none" stroke="#111" stroke-width="5.5"/><path d="M236 1484.2H241.8V1505H236Z"/><path d="M238.9 1503V1505C238.9 1510.5 235 1513 230.5 1513C227 1513 224 1511.8 221.8 1509.8" fill="none" stroke="#111" stroke-width="5.7"/><path d="M241.2 1476H248.6L256.7 1497.4L264.3 1476H271.6L259.9 1505.7H253.5Z"/><path d="M274.1 1484.2H279.9V1505.7H274.1Z"/><circle cx="277.1" cy="1478.4" r="3.95"/><path d="M301.42 1499.65A8.45 8.45 0 1 1 302.95 1494.8" fill="none" stroke="#111" stroke-width="5.5"/><path d="M286.5 1492.3H305.7V1496.6H286.5Z"/><path d="M306.3 1484.2H312.4L316.1 1496.4L320.1 1484.2H325.7L329.8 1496.6L333.7 1484.2H339.9L332.8 1505.7H326.9L322.9 1493.05L318.9 1505.7H313.05Z"/></g>
</svg>
</body></html>
